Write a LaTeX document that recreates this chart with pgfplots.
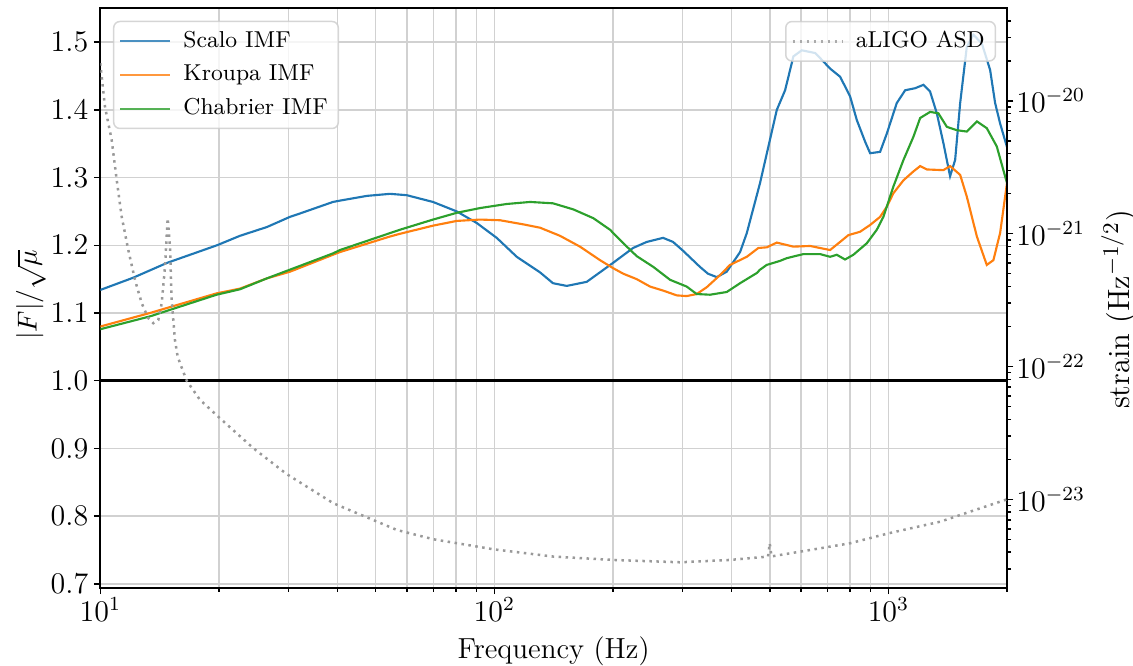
\documentclass[border=0pt]{standalone}
\usepackage{pgfplots}
\pgfplotsset{compat=1.18}
\usetikzlibrary{calc}

\definecolor{cScalo}{HTML}{1F77B4}
\definecolor{cKroupa}{HTML}{FF7F0E}
\definecolor{cChab}{HTML}{2CA02C}

\pgfplotsset{
  every axis/.append style={
    scale only axis, width=362.7pt, height=231.9pt,
    tick align=outside,
    major tick length=2.6pt, minor tick length=1.6pt,
    every tick/.style={black, line width=0.6pt},
    axis line style={line width=0.8pt},
    tick label style={font=\fontsize{11.5}{13}\selectfont},
    label style={font=\fontsize{11.6}{13}\selectfont},
    legend cell align=left,
    legend style={font=\fontsize{9.2}{11}\selectfont, draw=gray!40,
      line width=0.6pt, fill=white, fill opacity=0.8, draw opacity=0.8,
      text opacity=1, rounded corners=2.5pt, inner xsep=2.25pt,
      inner ysep=1.75pt, row sep=1.2pt,
      nodes={inner sep=2pt, text height=6.5pt, text depth=1.8pt},
      /tikz/every odd column/.append style={column sep=2.8pt}},
  },
  legend image code/.code={\draw[#1] (0pt,0pt) -- (20pt,0pt);},
}

\begin{document}
\begin{tikzpicture}
\begin{axis}[name=main,
  xmode=log, xmin=10, xmax=2000,
  ymin=0.6942, ymax=1.5505,
  xtick={10,100,1000},
  minor xtick={20,30,40,50,60,70,80,90,200,300,400,500,600,700,800,900,2000},
  ytick={0.7,0.8,0.9,1.0,1.1,1.2,1.3,1.4,1.5},
  xtick pos=left, ytick pos=left,
  grid=both,
  major grid style={gray!36, line width=0.6pt},
  minor grid style={gray!36, line width=0.6pt},
  y tick label style={/pgf/number format/.cd, fixed, fixed zerofill, precision=1, /tikz/.cd},
  xticklabel style={inner sep=1pt},
  yticklabel style={inner sep=2pt},
  xlabel={Frequency (Hz)},
  xlabel style={at={(axis description cs:0.5,-0.1212)}, anchor=base},
  ylabel={$|F|/\sqrt{\mu}$},
  ylabel style={at={(axis description cs:-0.0765,0.505)}, anchor=center,
    inner sep=0pt, font=\fontsize{11.2}{13}\selectfont},
  legend style={at={(0.014,0.978)}, anchor=north west},
]
\addplot[cScalo, line width=0.85pt] coordinates {
(10.0,1.134) (12.11,1.152) (14.77,1.174) (19.78,1.200) (22.62,1.214)
(26.49,1.227) (30.30,1.242) (32.13,1.247) (38.95,1.264) (40.58,1.266)
(47.53,1.273) (54.36,1.276) (59.95,1.274) (69.9,1.264) (80.3,1.250)
(90.2,1.233) (101.4,1.211) (114.0,1.183) (130.6,1.160) (140.9,1.144)
(152.7,1.140) (171.6,1.146) (200.1,1.174) (224.9,1.196) (243.7,1.205)
(268.0,1.211) (284.1,1.205) (301.2,1.192) (332.7,1.168) (348.6,1.158)
(366.9,1.153) (388.9,1.161) (420.4,1.190) (437.2,1.218) (472.4,1.292)
(521.0,1.400) (546.9,1.429) (574.1,1.479) (602.8,1.488) (651.6,1.484)
(677.6,1.474) (711.4,1.461) (754.2,1.449) (799.6,1.420) (831.5,1.385)
(872.9,1.353) (898.7,1.336) (952.8,1.338) (990.8,1.365) (1050,1.410)
(1103,1.429) (1169,1.432) (1227,1.437) (1276,1.427) (1327,1.395)
(1379,1.351) (1434,1.302) (1477,1.326) (1521,1.410) (1581,1.493)
(1643,1.511) (1727,1.498) (1812,1.459) (1866,1.410) (1921,1.380)
(2000,1.345)
};
\addlegendentry{Scalo IMF}
\addplot[cKroupa, line width=0.85pt] coordinates {
(10.0,1.080) (13.37,1.100) (19.74,1.129) (22.62,1.136) (26.44,1.151)
(30.30,1.161) (38.95,1.186) (40.58,1.190) (54.36,1.213) (57.63,1.217)
(69.9,1.229) (80.3,1.236) (92.0,1.238) (103.4,1.237) (118.2,1.231)
(130.6,1.226) (146.8,1.214) (165.0,1.198) (185.5,1.178) (200.5,1.166)
(212.5,1.158) (229.8,1.150) (248.5,1.139) (268.5,1.133) (290.4,1.126)
(307.8,1.125) (326.3,1.128) (345.9,1.138) (374.0,1.156) (396.4,1.171)
(437.2,1.183) (467.7,1.196) (491.2,1.197) (521.0,1.204) (574.1,1.198)
(632.9,1.199) (711.4,1.193) (754.2,1.205) (791.7,1.215) (847.7,1.220)
(898.7,1.230) (952.8,1.242) (990.8,1.257) (1030,1.277) (1092,1.296)
(1157,1.309) (1204,1.317) (1252,1.312) (1379,1.311) (1434,1.317)
(1521,1.304) (1581,1.272) (1677,1.213) (1777,1.171) (1847,1.178)
(1921,1.218) (2000,1.292)
};
\addlegendentry{Kroupa IMF}
\addplot[cChab, line width=0.85pt] coordinates {
(10.0,1.076) (13.37,1.095) (19.74,1.127) (22.62,1.135) (26.44,1.151)
(38.95,1.188) (40.58,1.193) (54.36,1.218) (57.63,1.223) (69.9,1.238)
(80.3,1.248) (92.0,1.255) (107.5,1.261) (123.2,1.264) (140.9,1.262)
(158.7,1.253) (178.4,1.240) (196.6,1.223) (212.5,1.203) (229.8,1.184)
(253.3,1.168) (279.3,1.149) (307.8,1.139) (326.3,1.128) (352.7,1.127)
(388.9,1.131) (420.4,1.144) (463.4,1.159) (472.4,1.164) (491.2,1.171)
(531.1,1.177) (552.3,1.181) (608.5,1.187) (671,1.187) (711.4,1.183)
(739.8,1.186) (776.5,1.179) (815,1.186) (881.6,1.203) (934.6,1.223)
(971.2,1.242) (1030,1.287) (1092,1.326) (1157,1.360) (1204,1.388)
(1276,1.397) (1339,1.395) (1407,1.375) (1491,1.370) (1581,1.368)
(1677,1.383) (1777,1.373) (1884,1.346) (1958,1.311) (2000,1.292)
};
\addlegendentry{Chabrier IMF}
\addplot[black, line width=1pt, forget plot] coordinates {(10,1) (2000,1)};
\end{axis}

\begin{axis}[
  xmode=log, xmin=10, xmax=2000,
  hide x axis, axis y line*=right,
  ymode=log, ymin=2.16e-24, ymax=5.0e-20,
  ytick={1e-23,1e-22,1e-21,1e-20},
  minor ytick={3e-24,4e-24,5e-24,6e-24,7e-24,8e-24,9e-24,
    2e-23,3e-23,4e-23,5e-23,6e-23,7e-23,8e-23,9e-23,
    2e-22,3e-22,4e-22,5e-22,6e-22,7e-22,8e-22,9e-22,
    2e-21,3e-21,4e-21,5e-21,6e-21,7e-21,8e-21,9e-21,
    2e-20,3e-20,4e-20},
  yticklabel style={inner sep=1pt},
  ylabel={strain (Hz$^{-1/2}$)},
  ylabel style={at={(axis description cs:1.1235,0.48)}, anchor=center,
    inner sep=0pt, font=\fontsize{12.3}{14}\selectfont},
  legend style={at={(0.988,0.978)}, anchor=north east},
]
\addplot[gray!80, line width=1pt, dash pattern=on 1pt off 1.8pt] coordinates {
(10.0,1.92e-20) (10.28,9.06e-21) (10.69,5.08e-21) (11.01,2.54e-21)
(11.33,1.35e-21) (11.78,7.55e-22) (12.25,4.49e-22) (12.74,3.00e-22)
(13.24,2.31e-22) (13.63,2.12e-22) (14.04,2.24e-22) (14.32,3.00e-22)
(14.60,5.65e-22) (14.83,1.31e-21) (15.03,8.00e-22) (15.18,3.17e-22)
(15.47,1.59e-22) (15.72,1.19e-22) (15.94,1.06e-22) (16.57,7.83e-23)
(17.91,5.61e-23) (20.13,4.08e-23) (24.45,2.43e-23) (29.73,1.55e-23)
(39.04,9.35e-24) (56.55,5.89e-24) (70.0,5.01e-24) (99.4,4.21e-24)
(141.2,3.71e-24) (200.5,3.50e-24) (296,3.36e-24) (396,3.50e-24)
(495,3.71e-24) (500,4.67e-24) (505,3.72e-24) (597,4.04e-24)
(799,4.67e-24) (1000,5.55e-24) (1353,6.79e-24) (2000,1.0e-23)
};
\addlegendentry{aLIGO ASD}
\end{axis}

\pgfresetboundingbox
\path[use as bounding box] ($(main.south west)+(-40.1pt,-31.3pt)$) rectangle ($(main.north east)+(50.4pt,3.2pt)$);
\end{tikzpicture}
\end{document}
